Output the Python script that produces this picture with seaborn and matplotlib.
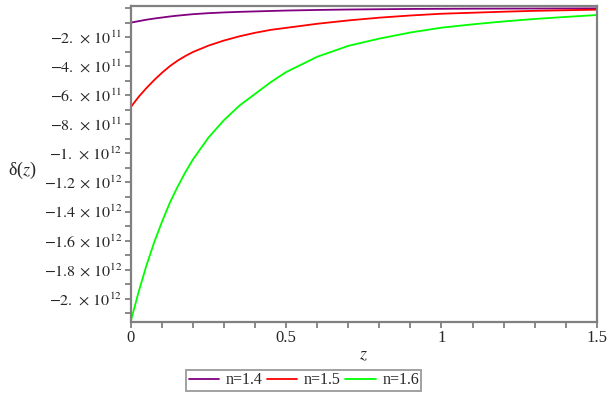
import numpy as np
import pandas as pd
import matplotlib
matplotlib.use("Agg")
import matplotlib.pyplot as plt
import seaborn as sns
from matplotlib.ticker import FuncFormatter, MultipleLocator, FixedLocator

# values
z = [0, 0.0125, 0.025, 0.0375, 0.05, 0.075, 0.1, 0.125, 0.15, 0.175, 0.2,
     0.25, 0.3, 0.35, 0.4, 0.45, 0.5, 0.6, 0.7, 0.8, 0.9, 1.0, 1.1, 1.2,
     1.3, 1.4, 1.5]
delta_n14 = [-1.0e11, -9.5e10, -9.0e10, -8.5e10, -8.0e10, -7.2e10, -6.5e10,
             -5.8e10, -5.2e10, -4.7e10, -4.2e10, -3.5e10, -3.0e10, -2.6e10,
             -2.3e10, -2.0e10, -1.7e10, -1.3e10, -1.0e10, -8e9, -6e9, -5e9,
             -4e9, -3.5e9, -3e9, -2.5e9, -2e9]
delta_n15 = [-6.8e11, -6.45e11, -6.1e11, -5.8e11, -5.5e11, -4.95e11, -4.45e11,
             -4.0e11, -3.62e11, -3.3e11, -3.02e11, -2.58e11, -2.23e11, -1.94e11,
             -1.7e11, -1.5e11, -1.36e11, -1.08e11, -8.5e10, -6.6e10, -5.1e10,
             -3.9e10, -3.2e10, -2.5e10, -1.9e10, -1.5e10, -1.1e10]
delta_n16 = [-2.15e12, -2.05e12, -1.95e12, -1.86e12, -1.77e12, -1.61e12, -1.47e12,
             -1.34e12, -1.23e12, -1.13e12, -1.04e12, -8.9e11, -7.7e11, -6.7e11,
             -5.9e11, -5.1e11, -4.4e11, -3.35e11, -2.6e11, -2.1e11, -1.68e11,
             -1.35e11, -1.12e11, -9.2e10, -7.5e10, -6.1e10, -4.8e10]
labels = ["n=1.4", "n=1.5", "n=1.6"]
colors = ["#800080", "#ff0000", "#00ff00"]
yticks = [-2e12, -1.8e12, -1.6e12, -1.4e12, -1.2e12, -1e12,
          -8e11, -6e11, -4e11, -2e11]

df = pd.DataFrame({
    "z": z * 3,
    "delta": delta_n14 + delta_n15 + delta_n16,
    "n": [labels[0]] * len(z) + [labels[1]] * len(z) + [labels[2]] * len(z),
})

sns.set_style("white")
plt.rcParams["font.family"] = ["Liberation Serif", "DejaVu Serif"]
plt.rcParams["mathtext.fontset"] = "stix"

fig = plt.figure(figsize=(6.12, 4.0), dpi=100)
ax = fig.add_axes([0.214, 0.195, 0.761, 0.791])

sns.lineplot(data=df, x="z", y="delta", hue="n", palette=colors,
             linewidth=1.3, ax=ax)

ax.set_xlim(0, 1.5)
ax.set_ylim(-2.16e12, 1.7e10)


def sci_fmt(v, pos):
    exp = int(np.floor(np.log10(abs(v))))
    mant = v / 10 ** exp
    m = f"{abs(mant):.1f}".rstrip("0")
    return r"$-" + m + r"\,\times\,10^{" + str(exp) + "}$"


ax.yaxis.set_major_locator(FixedLocator(yticks))
ax.yaxis.set_minor_locator(MultipleLocator(1e11))
ax.yaxis.set_major_formatter(FuncFormatter(sci_fmt))
ax.xaxis.set_major_locator(MultipleLocator(0.5))
ax.xaxis.set_minor_locator(MultipleLocator(0.1))
ax.xaxis.set_major_formatter(FuncFormatter(lambda v, p: f"{v:g}"))

for s in ax.spines.values():
    s.set_color("#808080")
    s.set_linewidth(1.6)
ax.tick_params(which="both", direction="out", color="#808080", width=1.3,
               length=4, labelsize=12, bottom=True, left=True,
               top=False, right=False)
ax.tick_params(axis="y", labelsize=11.5, pad=2)
ax.tick_params(axis="x", pad=2)

ax.set_xlabel("$z$", fontsize=13, labelpad=0)
ax.set_ylabel("δ($z$)", fontsize=13, rotation=0, va="center", ha="center")
ax.yaxis.set_label_coords(-0.233, 0.48)

ax.legend(loc="upper center", bbox_to_anchor=(0.371, -0.152), ncol=3,
          frameon=True, fancybox=False, edgecolor="#808080", fontsize=11.5,
          handlelength=1.9, handletextpad=0.4, columnspacing=0.3,
          borderpad=0.15, borderaxespad=0, title=None)
ax.get_legend().get_frame().set_linewidth(1.3)

fig.savefig("out.png", dpi=100)
